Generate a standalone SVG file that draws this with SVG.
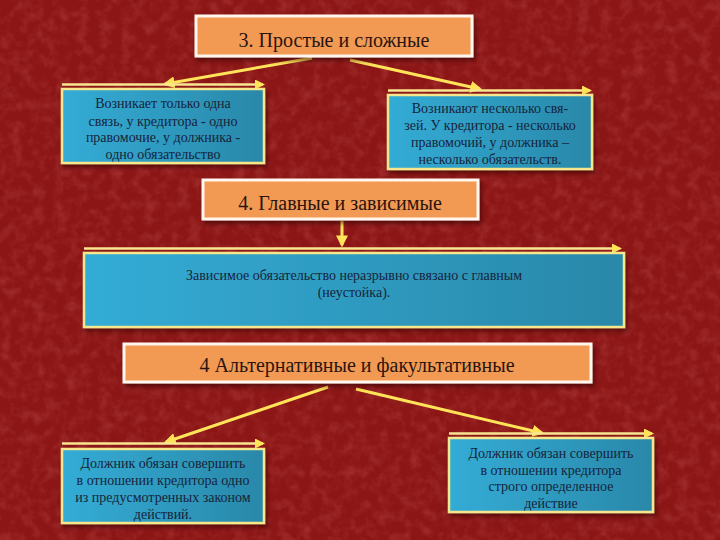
<svg xmlns="http://www.w3.org/2000/svg" width="720" height="540" viewBox="0 0 720 540">
<defs>
<filter id="tex" x="0" y="0" width="100%" height="100%">
<feTurbulence type="fractalNoise" baseFrequency="0.09" numOctaves="3" seed="4" result="n"/>
<feColorMatrix in="n" type="matrix" values="0 0 0 0 0.72  0 0 0 0 0.16  0 0 0 0 0.16  0 0 0 1.1 -0.45"/>
</filter>
<filter id="sh" x="-10%" y="-20%" width="125%" height="150%">
<feDropShadow dx="2" dy="3" stdDeviation="2" flood-color="#2a0000" flood-opacity="0.6"/>
</filter>
<linearGradient id="blue" x1="0" y1="0" x2="1" y2="0">
<stop offset="0" stop-color="#33ACD6"/>
<stop offset="1" stop-color="#2A88A9"/>
</linearGradient>
<marker id="ah" viewBox="0 0 10 10" refX="8" refY="5" markerWidth="4" markerHeight="4" orient="auto">
<path d="M0,0 L10,5 L0,10 z" fill="#FFE45A"/>
</marker>
<style>
.orange{fill:#F29A52;stroke:#FFF6EE;stroke-width:3}
.bluebox{fill:url(#blue);stroke:#F6E68C;stroke-width:2.5}
.ht{font-family:"Liberation Serif","DejaVu Serif",serif;font-size:20px;fill:#2A1410;text-anchor:middle}
.bt{font-family:"Liberation Serif","DejaVu Serif",serif;font-size:14px;fill:#16243A;text-anchor:middle}
.arr{stroke:#FFE45A;stroke-width:3;fill:none;marker-end:url(#ah)}
.top{stroke:#F8E690;stroke-width:2.5;fill:none;marker-end:url(#ah)}
</style>
</defs>
<rect width="720" height="540" fill="#8C1616"/>
<rect width="720" height="540" filter="url(#tex)" opacity="0.45"/>

<g id="connectors">
<line class="arr" x1="312" y1="58" x2="165" y2="84"/>
<line class="arr" x1="350" y1="60" x2="480" y2="89"/>
<line class="arr" x1="342" y1="221" x2="342" y2="245"/>
<line class="arr" x1="328" y1="387" x2="166" y2="442"/>
<line class="arr" x1="356" y1="389" x2="542" y2="433"/>
<line class="top" x1="62" y1="84.5" x2="263" y2="84.5"/>
<line class="top" x1="388" y1="90.5" x2="590" y2="90.5"/>
<line class="top" x1="84" y1="248.5" x2="620" y2="248.5"/>
<line class="top" x1="62" y1="443.5" x2="263" y2="443.5"/>
<line class="top" x1="449" y1="433.5" x2="652" y2="433.5"/>
</g>

<g id="node-simple-complex">
<rect class="orange" x="196" y="16" width="276" height="40" filter="url(#sh)"/>
<text class="ht" x="334" y="46.5">3. Простые и сложные</text>
</g>

<g id="node-simple">
<rect class="bluebox" x="62" y="89" width="202" height="74" filter="url(#sh)"/>
<text class="bt" x="163" y="108">Возникает только одна</text>
<text class="bt" x="163" y="125.5">связь, у кредитора - одно</text>
<text class="bt" x="163" y="142">правомочие, у должника -</text>
<text class="bt" x="163" y="158.5">одно обязательство</text>
</g>

<g id="node-complex">
<rect class="bluebox" x="388" y="95" width="204" height="74" filter="url(#sh)"/>
<text class="bt" x="490" y="112.5">Возникают несколько свя-</text>
<text class="bt" x="490" y="129.5">зей. У кредитора - несколько</text>
<text class="bt" x="490" y="146.5">правомочий, у должника –</text>
<text class="bt" x="490" y="163.5">несколько обязательств.</text>
</g>

<g id="node-main-dependent">
<rect class="orange" x="203" y="180" width="275" height="39" filter="url(#sh)"/>
<text class="ht" x="340" y="210">4. Главные и зависимые</text>
</g>

<g id="node-dependent">
<rect class="bluebox" x="84" y="253" width="540" height="74" filter="url(#sh)"/>
<text class="bt" x="354" y="279.5">Зависимое обязательство неразрывно связано с главным</text>
<text class="bt" x="354" y="296.5">(неустойка).</text>
</g>

<g id="node-alternative">
<rect class="orange" x="124" y="344" width="467" height="38" filter="url(#sh)"/>
<text class="ht" x="357" y="372">4 Альтернативные и факультативные</text>
</g>

<g id="node-alt-left">
<rect class="bluebox" x="62" y="449" width="202" height="74" filter="url(#sh)"/>
<text class="bt" x="163" y="467.5">Должник обязан совершить</text>
<text class="bt" x="163" y="485">в отношении кредитора одно</text>
<text class="bt" x="163" y="502">из предусмотренных законом</text>
<text class="bt" x="163" y="519">действий.</text>
</g>

<g id="node-alt-right">
<rect class="bluebox" x="449" y="438" width="204" height="74" filter="url(#sh)"/>
<text class="bt" x="551" y="457.5">Должник обязан совершить</text>
<text class="bt" x="551" y="474.5">в отношении кредитора</text>
<text class="bt" x="551" y="491">строго определенное</text>
<text class="bt" x="551" y="507.5">действие</text>
</g>
</svg>
